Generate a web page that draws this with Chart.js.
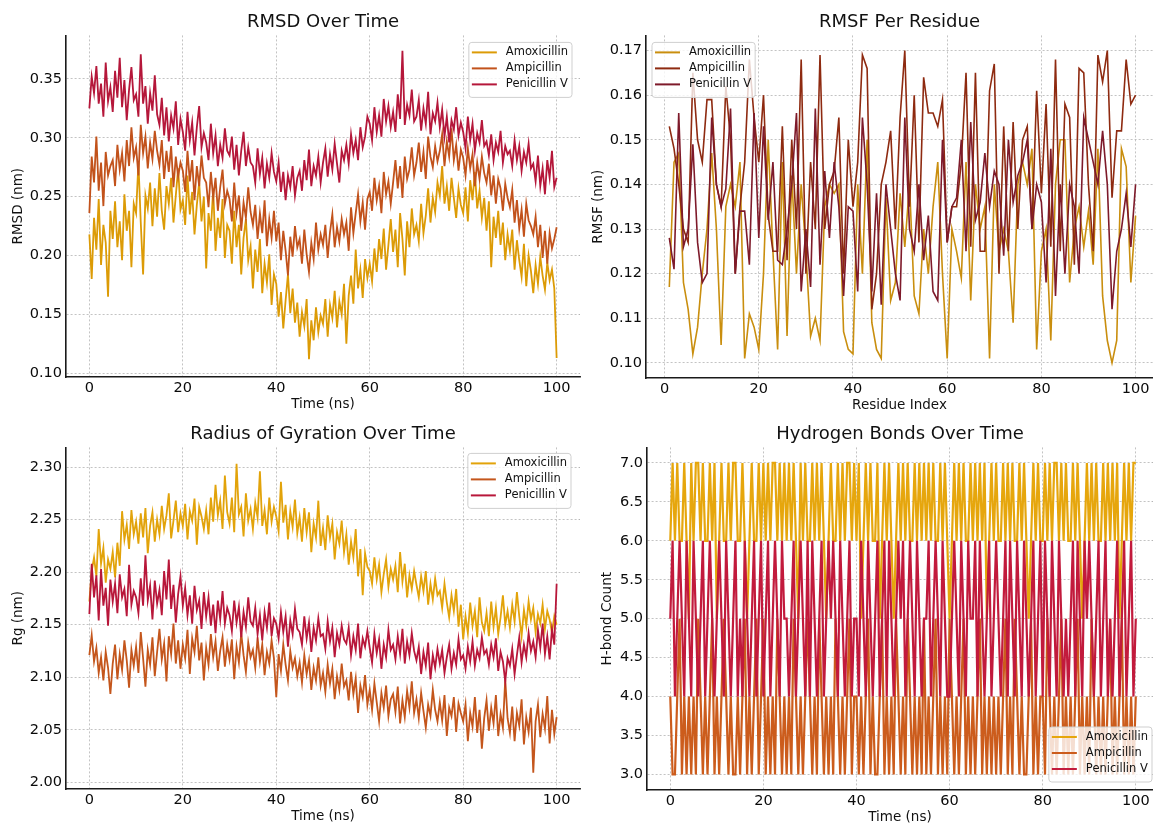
<!DOCTYPE html>
<html>
<head>
<meta charset="utf-8">
<script src="https://cdn.jsdelivr.net/npm/chart.js@4.4.1/dist/chart.umd.min.js"></script>
<style>
  html, body { margin: 0; padding: 0; background: #fff; width: 1153px; height: 824px; overflow: hidden; }
  canvas { position: absolute; }
</style>
</head>
<body>
<canvas id="rmsdChart" width="582" height="422" style="left:0px;top:0px"></canvas>
<canvas id="rmsfChart" width="573" height="423" style="left:580px;top:0px"></canvas>
<canvas id="rgChart" width="582" height="419" style="left:0px;top:415px"></canvas>
<canvas id="hbondChart" width="573" height="420" style="left:580px;top:415px"></canvas>
<script>
const seriesNames = ['Amoxicillin', 'Ampicillin', 'Penicillin V'];

// time axis, 0 to 100 ns every 0.5 ns
const timeNs = [];
for (let i = 0; i <= 200; i++) timeNs.push(i * 0.5);
// residues 1..100
const residueIdx = [];
for (let r = 1; r <= 100; r++) residueIdx.push(r);

// RMSD (nm)
const rmsdAmox = [
  0.218,0.180,0.232,0.205,0.248,0.192,0.226,0.211,0.165,0.238,
  0.214,0.246,0.207,0.229,0.196,0.252,0.221,0.238,0.190,0.244,
  0.236,0.279,0.228,0.184,0.251,0.240,0.262,0.225,0.257,0.233,
  0.270,0.238,0.222,0.259,0.244,0.266,0.228,0.251,0.274,0.239,
  0.247,0.226,0.268,0.235,0.254,0.218,0.243,0.262,0.229,0.250,
  0.189,0.236,0.221,0.257,0.204,0.232,0.215,0.248,0.198,0.226,
  0.221,0.193,0.238,0.207,0.226,0.184,0.215,0.231,0.196,0.208,
  0.172,0.205,0.186,0.214,0.168,0.193,0.177,0.201,0.158,0.184,
  0.176,0.148,0.169,0.138,0.162,0.184,0.151,0.172,0.143,0.160,
  0.131,0.152,0.140,0.163,0.112,0.145,0.128,0.156,0.135,0.149,
  0.142,0.163,0.131,0.158,0.147,0.170,0.139,0.161,0.150,0.176,
  0.125,0.166,0.183,0.159,0.205,0.172,0.188,0.164,0.197,0.181,
  0.193,0.178,0.206,0.186,0.214,0.197,0.223,0.188,0.209,0.231,
  0.203,0.222,0.190,0.236,0.214,0.183,0.229,0.207,0.240,0.218,
  0.226,0.212,0.244,0.219,0.234,0.257,0.228,0.249,0.237,0.262,
  0.251,0.276,0.244,0.259,0.238,0.266,0.249,0.232,0.257,0.243,
  0.236,0.258,0.229,0.264,0.247,0.271,0.240,0.255,0.232,0.249,
  0.221,0.246,0.190,0.233,0.215,0.238,0.209,0.228,0.196,0.218,
  0.204,0.222,0.188,0.213,0.196,0.182,0.210,0.174,0.200,0.187,
  0.168,0.192,0.176,0.199,0.183,0.171,0.194,0.179,0.188,0.172,
  0.113
];
const rmsdAmp = [
  0.236,0.284,0.262,0.301,0.255,0.279,0.242,0.288,0.268,0.276,
  0.281,0.259,0.294,0.273,0.287,0.263,0.298,0.276,0.309,0.283,
  0.292,0.268,0.311,0.287,0.301,0.274,0.296,0.282,0.306,0.289,
  0.277,0.298,0.265,0.289,0.271,0.293,0.258,0.284,0.267,0.279,
  0.272,0.254,0.289,0.263,0.281,0.247,0.276,0.259,0.285,0.266,
  0.262,0.241,0.271,0.249,0.266,0.238,0.258,0.273,0.244,0.255,
  0.248,0.229,0.262,0.236,0.251,0.221,0.245,0.232,0.258,0.237,
  0.226,0.243,0.214,0.236,0.219,0.247,0.208,0.231,0.215,0.238,
  0.212,0.228,0.196,0.221,0.204,0.183,0.216,0.199,0.225,0.207,
  0.214,0.193,0.222,0.201,0.186,0.211,0.197,0.228,0.205,0.218,
  0.209,0.226,0.198,0.220,0.235,0.207,0.224,0.212,0.231,0.218,
  0.228,0.204,0.241,0.219,0.236,0.252,0.229,0.245,0.222,0.248,
  0.254,0.238,0.266,0.247,0.259,0.236,0.271,0.252,0.263,0.244,
  0.262,0.281,0.257,0.276,0.249,0.284,0.265,0.273,0.292,0.268,
  0.279,0.296,0.271,0.288,0.265,0.301,0.284,0.275,0.293,0.280,
  0.289,0.303,0.276,0.297,0.284,0.308,0.281,0.294,0.272,0.290,
  0.283,0.268,0.291,0.274,0.286,0.259,0.279,0.265,0.284,0.270,
  0.262,0.278,0.251,0.268,0.244,0.265,0.257,0.238,0.261,0.249,
  0.241,0.256,0.228,0.247,0.223,0.239,0.216,0.244,0.230,0.225,
  0.218,0.233,0.207,0.226,0.198,0.221,0.193,0.219,0.206,0.214,
  0.224
];
const rmsdPen = [
  0.325,0.352,0.338,0.361,0.329,0.346,0.318,0.364,0.331,0.343,
  0.322,0.357,0.334,0.368,0.326,0.349,0.315,0.341,0.360,0.332,
  0.337,0.318,0.371,0.329,0.344,0.312,0.338,0.323,0.353,0.320,
  0.311,0.334,0.302,0.326,0.297,0.319,0.308,0.331,0.294,0.316,
  0.305,0.289,0.322,0.298,0.313,0.285,0.309,0.327,0.292,0.304,
  0.296,0.281,0.312,0.287,0.302,0.276,0.294,0.283,0.308,0.289,
  0.285,0.301,0.273,0.294,0.268,0.289,0.305,0.276,0.292,0.279,
  0.276,0.262,0.291,0.269,0.283,0.257,0.278,0.266,0.287,0.271,
  0.263,0.279,0.254,0.271,0.247,0.268,0.258,0.276,0.251,0.266,
  0.272,0.255,0.281,0.264,0.290,0.259,0.276,0.268,0.284,0.262,
  0.279,0.291,0.267,0.286,0.273,0.295,0.278,0.262,0.289,0.281,
  0.294,0.278,0.303,0.287,0.298,0.281,0.309,0.292,0.301,0.318,
  0.312,0.298,0.326,0.305,0.319,0.301,0.333,0.314,0.327,0.309,
  0.322,0.305,0.337,0.316,0.374,0.311,0.328,0.319,0.341,0.314,
  0.318,0.332,0.306,0.325,0.312,0.339,0.303,0.321,0.314,0.330,
  0.309,0.324,0.301,0.318,0.296,0.315,0.307,0.326,0.302,0.313,
  0.305,0.291,0.318,0.298,0.312,0.289,0.304,0.296,0.315,0.293,
  0.297,0.285,0.303,0.281,0.296,0.288,0.306,0.279,0.293,0.286,
  0.289,0.276,0.298,0.281,0.293,0.272,0.288,0.279,0.295,0.274,
  0.278,0.263,0.285,0.259,0.274,0.252,0.281,0.266,0.289,0.258,
  0.266
];

// RMSF (nm) per residue
const rmsfAmox = [
  0.117,0.145,0.147,0.118,0.112,0.102,0.108,0.120,0.130,0.147,
  0.130,0.104,0.135,0.140,0.135,0.145,0.101,0.111,0.108,0.103,
  0.120,0.150,0.125,0.103,0.145,0.106,0.142,0.120,0.140,0.125,
  0.106,0.110,0.105,0.135,0.140,0.138,0.140,0.107,0.103,0.102,
  0.140,0.120,0.150,0.109,0.103,0.101,0.137,0.114,0.118,0.138,
  0.126,0.140,0.115,0.111,0.130,0.120,0.135,0.145,0.120,0.101,
  0.130,0.125,0.119,0.145,0.114,0.140,0.130,0.135,0.101,0.140,
  0.125,0.130,0.125,0.109,0.140,0.145,0.140,0.148,0.103,0.125,
  0.130,0.105,0.140,0.150,0.150,0.118,0.130,0.135,0.126,0.134,
  0.122,0.148,0.115,0.105,0.100,0.105,0.148,0.144,0.118,0.133
];
const rmsfAmp = [
  0.153,0.148,0.140,0.130,0.127,0.165,0.150,0.145,0.159,0.159,
  0.140,0.135,0.162,0.150,0.120,0.135,0.145,0.168,0.155,0.145,
  0.160,0.133,0.125,0.125,0.153,0.123,0.150,0.130,0.168,0.120,
  0.145,0.130,0.169,0.130,0.140,0.143,0.155,0.120,0.150,0.135,
  0.145,0.169,0.166,0.112,0.120,0.140,0.145,0.152,0.130,0.155,
  0.170,0.135,0.160,0.127,0.164,0.156,0.156,0.153,0.159,0.127,
  0.135,0.135,0.145,0.165,0.126,0.165,0.125,0.125,0.161,0.167,
  0.120,0.153,0.125,0.154,0.130,0.150,0.153,0.130,0.161,0.138,
  0.158,0.126,0.168,0.125,0.158,0.155,0.122,0.166,0.165,0.140,
  0.125,0.169,0.163,0.170,0.137,0.152,0.152,0.168,0.158,0.160
];
const rmsfPen = [
  0.128,0.121,0.156,0.126,0.130,0.149,0.127,0.118,0.120,0.155,
  0.140,0.135,0.139,0.157,0.120,0.134,0.134,0.122,0.156,0.128,
  0.153,0.132,0.145,0.123,0.122,0.130,0.140,0.156,0.116,0.130,
  0.117,0.157,0.122,0.143,0.128,0.145,0.135,0.115,0.135,0.134,
  0.116,0.155,0.140,0.116,0.138,0.113,0.140,0.130,0.120,0.114,
  0.155,0.130,0.125,0.140,0.123,0.133,0.116,0.114,0.150,0.127,
  0.135,0.137,0.150,0.125,0.154,0.132,0.136,0.147,0.135,0.143,
  0.140,0.124,0.150,0.136,0.142,0.145,0.150,0.130,0.140,0.136,
  0.118,0.148,0.115,0.140,0.120,0.140,0.135,0.120,0.155,0.150,
  0.145,0.140,0.152,0.140,0.112,0.125,0.130,0.138,0.126,0.140
];

// Radius of gyration (nm)
const rgAmox = [
  2.172,2.201,2.214,2.196,2.241,2.208,2.223,2.190,2.212,2.203,
  2.219,2.195,2.228,2.206,2.258,2.231,2.245,2.222,2.259,2.236,
  2.248,2.227,2.256,2.233,2.261,2.218,2.244,2.257,2.229,2.250,
  2.236,2.263,2.241,2.254,2.275,2.232,2.249,2.268,2.238,2.256,
  2.244,2.265,2.231,2.258,2.249,2.270,2.226,2.262,2.253,2.241,
  2.259,2.236,2.271,2.248,2.283,2.254,2.268,2.241,2.292,2.257,
  2.246,2.271,2.238,2.303,2.255,2.262,2.234,2.275,2.249,2.260,
  2.241,2.266,2.252,2.296,2.244,2.259,2.236,2.271,2.248,2.262,
  2.253,2.239,2.286,2.247,2.264,2.231,2.258,2.243,2.269,2.237,
  2.252,2.229,2.261,2.238,2.257,2.219,2.246,2.233,2.268,2.225,
  2.242,2.221,2.254,2.233,2.246,2.212,2.238,2.227,2.249,2.219,
  2.236,2.207,2.229,2.214,2.241,2.196,2.222,2.178,2.218,2.205,
  2.201,2.189,2.214,2.193,2.207,2.181,2.198,2.212,2.186,2.203,
  2.193,2.206,2.181,2.219,2.191,2.208,2.176,2.197,2.184,2.201,
  2.188,2.176,2.196,2.182,2.201,2.169,2.189,2.174,2.194,2.178,
  2.182,2.166,2.189,2.171,2.157,2.178,2.163,2.184,2.148,2.169,
  2.136,2.158,2.142,2.171,2.149,2.163,2.138,2.176,2.152,2.144,
  2.161,2.139,2.172,2.148,2.166,2.141,2.157,2.178,2.150,2.163,
  2.147,2.169,2.153,2.181,2.158,2.139,2.164,2.149,2.172,2.155,
  2.166,2.143,2.160,2.151,2.169,2.146,2.163,2.155,2.142,2.158,
  2.150
];
const rgAmp = [
  2.121,2.140,2.115,2.128,2.104,2.119,2.097,2.124,2.109,2.084,
  2.113,2.131,2.098,2.122,2.107,2.135,2.116,2.090,2.126,2.111,
  2.129,2.104,2.143,2.118,2.091,2.126,2.112,2.138,2.101,2.124,
  2.146,2.117,2.132,2.096,2.139,2.122,2.151,2.113,2.135,2.108,
  2.131,2.118,2.145,2.103,2.137,2.124,2.149,2.116,2.133,2.097,
  2.128,2.112,2.141,2.119,2.134,2.106,2.125,2.138,2.110,2.131,
  2.117,2.136,2.098,2.129,2.114,2.142,2.121,2.105,2.133,2.119,
  2.126,2.109,2.138,2.115,2.131,2.102,2.124,2.113,2.135,2.118,
  2.081,2.122,2.106,2.131,2.112,2.097,2.125,2.109,2.118,2.101,
  2.114,2.095,2.121,2.103,2.116,2.088,2.109,2.097,2.119,2.092,
  2.104,2.086,2.112,2.094,2.108,2.079,2.101,2.088,2.113,2.091,
  2.097,2.078,2.105,2.084,2.099,2.066,2.092,2.081,2.102,2.074,
  2.088,2.069,2.094,2.076,2.058,2.085,2.071,2.092,2.063,2.079,
  2.084,2.067,2.091,2.056,2.078,2.062,2.087,2.071,2.096,2.066,
  2.079,2.061,2.085,2.068,2.052,2.074,2.063,2.088,2.069,2.058,
  2.076,2.059,2.083,2.044,2.071,2.063,2.081,2.048,2.075,2.066,
  2.058,2.074,2.039,2.066,2.053,2.081,2.047,2.069,2.032,2.061,
  2.078,2.049,2.071,2.056,2.083,2.044,2.065,2.052,2.098,2.061,
  2.047,2.072,2.039,2.066,2.054,2.079,2.036,2.062,2.048,2.071,
  2.009,2.058,2.074,2.043,2.065,2.051,2.082,2.037,2.069,2.046,
  2.062
];
const rgPen = [
  2.160,2.208,2.176,2.197,2.154,2.203,2.168,2.185,2.149,2.193,
  2.172,2.189,2.161,2.198,2.176,2.184,2.158,2.207,2.169,2.182,
  2.176,2.161,2.194,2.168,2.216,2.173,2.187,2.155,2.192,2.170,
  2.183,2.159,2.201,2.174,2.212,2.165,2.188,2.152,2.179,2.196,
  2.168,2.185,2.159,2.178,2.151,2.187,2.164,2.173,2.146,2.181,
  2.158,2.176,2.149,2.169,2.142,2.173,2.155,2.182,2.151,2.166,
  2.159,2.144,2.173,2.152,2.167,2.138,2.162,2.148,2.176,2.153,
  2.149,2.166,2.141,2.159,2.135,2.162,2.147,2.171,2.139,2.156,
  2.151,2.137,2.162,2.143,2.158,2.129,2.154,2.141,2.165,2.146,
  2.143,2.131,2.158,2.137,2.152,2.124,2.147,2.135,2.156,2.139,
  2.141,2.127,2.153,2.134,2.147,2.119,2.142,2.131,2.149,2.136,
  2.132,2.147,2.121,2.139,2.126,2.151,2.118,2.137,2.129,2.144,
  2.128,2.114,2.141,2.123,2.136,2.108,2.131,2.119,2.145,2.126,
  2.131,2.117,2.139,2.122,2.146,2.113,2.134,2.121,2.142,2.125,
  2.116,2.129,2.103,2.124,2.111,2.133,2.098,2.121,2.109,2.127,
  2.113,2.126,2.104,2.119,2.131,2.108,2.123,2.112,2.136,2.117,
  2.121,2.108,2.129,2.115,2.134,2.111,2.126,2.118,2.138,2.122,
  2.126,2.112,2.131,2.119,2.137,2.106,2.124,2.115,2.096,2.118,
  2.111,2.127,2.103,2.121,2.138,2.114,2.131,2.119,2.142,2.125,
  2.134,2.119,2.145,2.128,2.151,2.122,2.139,2.117,2.146,2.131,
  2.189
];

// hydrogen bond counts
const hbAmox = [
  6,7,6,7,6,6,7,6,5,7, 6,7,7,6,7,6,6,7,6,7, 5,6,7,6,6,7,6,7,7,6, 6,7,6,5,6,7,6,6,7,6,
  7,6,7,6,7,7,6,7,6,7, 6,7,6,7,6,5,7,6,7,6, 6,7,6,7,6,7,6,5,6,7, 6,6,7,6,7,6,7,7,6,7,
  6,7,5,6,7,6,7,6,6,7, 5,6,7,6,7,6,5,6,7,6, 7,6,7,6,6,7,6,7,6,7, 6,7,6,7,6,6,7,6,7,6,
  5,6,7,6,7,6,7,6,6,7, 6,7,6,7,6,7,5,6,7,6, 7,6,6,7,6,7,6,7,6,6, 7,6,7,6,5,6,7,6,7,6,
  6,7,6,7,6,7,7,6,7,6, 7,6,6,7,6,7,6,5,6,7, 6,7,6,7,6,6,7,6,7,6, 7,6,7,5,6,7,6,7,6,7,
  7
];
const hbAmp = [
  4,3,3,4,5,3,4,3,4,3, 4,3,5,4,3,4,3,4,5,3, 4,3,4,5,4,3,4,3,3,4, 3,4,5,3,4,3,4,5,3,4,
  5,3,4,3,4,3,5,4,3,4, 3,4,3,5,4,3,4,3,4,5, 4,3,4,3,5,4,3,4,3,4, 3,5,4,3,4,3,4,5,3,4,
  4,3,4,3,4,5,3,4,3,3, 4,5,3,4,3,4,3,5,4,3, 4,3,5,4,3,4,3,4,3,5, 3,4,3,4,5,3,4,3,4,3,
  5,4,3,4,3,4,5,3,4,3, 4,3,4,5,3,4,3,4,3,4, 3,4,3,4,5,3,4,3,5,4, 3,4,3,3,4,5,3,4,3,4,
  4,3,5,4,3,4,3,4,5,3, 4,3,4,3,4,5,3,4,3,4, 3,5,4,3,4,3,4,3,4,5, 3,4,3,4,5,3,4,3,4,3,
  4
];
const hbPen = [
  5,6,4,5,6,5,4,6,5,4, 6,5,4,5,6,4,5,6,5,4, 5,6,5,4,6,5,4,5,6,4, 5,4,6,5,4,5,6,4,5,6,
  4,5,6,4,5,6,5,4,6,5, 5,4,5,6,4,5,6,5,4,6, 4,6,5,4,5,6,4,5,6,5, 6,5,4,6,5,4,5,6,4,5,
  5,4,6,5,4,6,5,4,5,6, 4,5,6,4,6,5,4,5,6,5, 6,4,5,6,5,4,6,5,4,5, 5,6,4,5,6,5,4,6,5,4,
  4,5,6,5,4,6,5,4,6,5, 5,6,4,6,5,4,5,6,4,5, 6,5,4,5,6,4,6,5,4,6, 5,4,6,5,4,5,6,4,5,6,
  4,6,5,4,6,5,4,6,5,4, 5,4,5,6,4,6,5,4,6,5, 6,5,4,5,6,4,5,6,4,5, 4,5,6,4,5,6,4,5,6,4,
  5
];

Chart.defaults.font.family = '"DejaVu Sans", sans-serif';
Chart.defaults.color = '#111';
Chart.defaults.animation = false;

// legend drawn as a framed box inside the plot area, like matplotlib
const boxLegend = {
  id: 'boxLegend',
  afterDraw(chart, args, opts) {
    const { ctx, chartArea } = chart;
    const sets = chart.data.datasets;
    ctx.save();
    ctx.font = '11.5px "DejaVu Sans", sans-serif';
    const textW = Math.max(...sets.map(d => ctx.measureText(d.label).width));
    const w = 37 + textW + 4;
    const h = sets.length * 16 + 7;
    const x = opts.corner.includes('e') ? chartArea.right - opts.dx - w : chartArea.left + opts.dx;
    const y = opts.corner.startsWith('n') ? chartArea.top + opts.dy : chartArea.bottom - opts.dy - h;
    ctx.beginPath();
    ctx.roundRect(x, y, w, h, 3);
    ctx.fillStyle = 'rgba(255,255,255,0.8)';
    ctx.fill();
    ctx.strokeStyle = '#cfcfcf';
    ctx.lineWidth = 1;
    ctx.stroke();
    sets.forEach((d, i) => {
      const cy = y + 10 + i * 16;
      ctx.strokeStyle = d.borderColor;
      ctx.lineWidth = 2;
      ctx.beginPath();
      ctx.moveTo(x + 3, cy);
      ctx.lineTo(x + 28, cy);
      ctx.stroke();
      ctx.fillStyle = '#111';
      ctx.textBaseline = 'middle';
      ctx.fillText(d.label, x + 37, cy);
    });
    ctx.restore();
  }
};

function makeChart(id, cfg) {
  const datasets = cfg.series.map((vals, k) => ({
    label: seriesNames[k],
    data: vals.map((v, i) => ({ x: cfg.xs[i], y: v })),
    borderColor: cfg.colors[k],
    borderWidth: cfg.lineWidth,
    pointRadius: 0,
    tension: 0,
    order: 3 - k // later series on top
  }));

  return new Chart(document.getElementById(id), {
    type: 'line',
    data: { datasets },
    plugins: [boxLegend],
    options: {
      responsive: false,
      devicePixelRatio: 1,
      events: [],
      layout: { padding: { left: 0, right: cfg.padRight, top: 0, bottom: 0 } },
      plugins: {
        legend: { display: false },
        tooltip: { enabled: false },
        title: {
          display: true,
          text: cfg.title,
          fullSize: false,
          color: '#111',
          font: { size: 18, weight: 'normal' },
          padding: { top: cfg.titleTop, bottom: cfg.titleBottom }
        },
        boxLegend: cfg.legend
      },
      scales: {
        x: {
          type: 'linear',
          min: cfg.xMin,
          max: cfg.xMax,
          afterFit: s => { s.height = 45; },
          ticks: { stepSize: 20, includeBounds: false, padding: 3, font: { size: 14.5 }, color: '#0a0a0a',
                   callback: v => v.toFixed(0) },
          grid: { color: '#b4b4b4', lineWidth: 0.8, drawTicks: false },
          border: { color: '#1a1a1a', width: 1.6, dash: [2, 2] },
          title: { display: true, text: cfg.xTitle, font: { size: 13.5 }, color: '#111',
                   padding: { top: 0, bottom: 9 } }
        },
        y: {
          min: cfg.yMin,
          max: cfg.yMax,
          afterFit: s => { s.width = cfg.yWidth; },
          ticks: { stepSize: cfg.yStep, includeBounds: false, padding: 4, font: { size: 14.5 }, color: '#0a0a0a',
                   callback: v => v.toFixed(cfg.yDec) },
          grid: { color: '#b4b4b4', lineWidth: 0.8, drawTicks: false },
          border: { color: '#1a1a1a', width: 1.6, dash: [2, 2] },
          title: { display: true, text: cfg.yTitle, font: { size: 13.5 }, color: '#111',
                   padding: { top: cfg.yTitlePad, bottom: 0 } }
        }
      }
    }
  });
}

makeChart('rmsdChart', {
  title: 'RMSD Over Time', xTitle: 'Time (ns)', yTitle: 'RMSD (nm)',
  xs: timeNs, series: [rmsdAmox, rmsdAmp, rmsdPen],
  colors: ['#dc9b06', '#c2521b', '#b5173a'], lineWidth: 1.8,
  xMin: -5, xMax: 105, yMin: 0.0968, yMax: 0.387, yStep: 0.05, yDec: 2,
  yWidth: 66, yTitlePad: 10, padRight: 2, titleTop: 11.5, titleBottom: 2.3,
  legend: { corner: 'ne', dx: 8, dy: 7 }
});

makeChart('rmsfChart', {
  title: 'RMSF Per Residue', xTitle: 'Residue Index', yTitle: 'RMSF (nm)',
  xs: residueIdx, series: [rmsfAmox, rmsfAmp, rmsfPen],
  colors: ['#c98e0e', '#8e2a10', '#7e1a2a'], lineWidth: 1.6,
  xMin: -3.95, xMax: 103.7, yMin: 0.0966, yMax: 0.1734, yStep: 0.01, yDec: 2,
  yWidth: 66, yTitlePad: 10, padRight: 0, titleTop: 11.5, titleBottom: 2.3,
  legend: { corner: 'nw', dx: 6, dy: 7 }
});

makeChart('rgChart', {
  title: 'Radius of Gyration Over Time', xTitle: 'Time (ns)', yTitle: 'Rg (nm)',
  xs: timeNs, series: [rgAmox, rgAmp, rgPen],
  colors: ['#e2a30a', '#c4561c', '#b8173a'], lineWidth: 1.8,
  xMin: -5, xMax: 105, yMin: 1.9936, yMax: 2.3187, yStep: 0.05, yDec: 2,
  yWidth: 66, yTitlePad: 10, padRight: 2, titleTop: 8.5, titleBottom: 2.3,
  legend: { corner: 'ne', dx: 9, dy: 6 }
});

makeChart('hbondChart', {
  title: 'Hydrogen Bonds Over Time', xTitle: 'Time (ns)', yTitle: 'H-bond Count',
  xs: timeNs, series: [hbAmox, hbAmp, hbPen],
  colors: ['#e6a60c', '#cc5c1c', '#c21a3c'], lineWidth: 2.2,
  xMin: -5, xMax: 103.7, yMin: 2.8, yMax: 7.2, yStep: 0.5, yDec: 1,
  yWidth: 67, yTitlePad: 19, padRight: 0, titleTop: 8.5, titleBottom: 2.3,
  legend: { corner: 'se', dx: 1, dy: 8 }
});
</script>
</body>
</html>
